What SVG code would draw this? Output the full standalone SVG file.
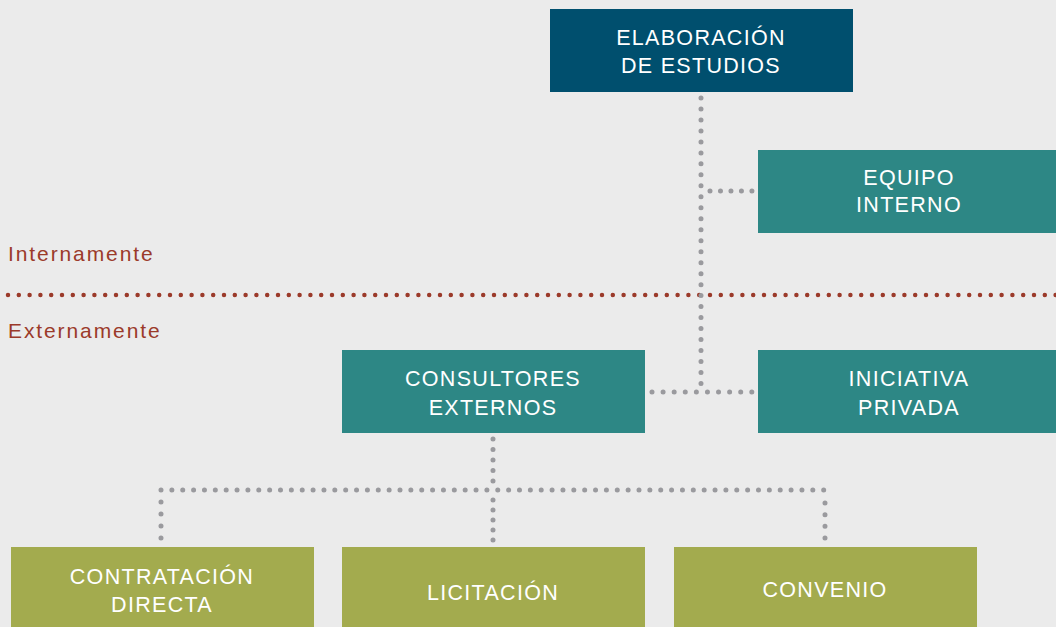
<svg xmlns="http://www.w3.org/2000/svg" width="1056" height="627" viewBox="0 0 1056 627">
<style>
.box text{font-family:"Liberation Sans",Arial,sans-serif;font-size:21.5px;fill:#ffffff;text-anchor:middle;letter-spacing:1.3px}
.blue{fill:#004f6e}
.teal{fill:#2d8785}
.olive{fill:#a3ab4e}
.gd{fill:none;stroke:#9a9a9e;stroke-width:5;stroke-linecap:round;stroke-dasharray:0 0.998}
.rd{fill:none;stroke:#9b3a2a;stroke-width:4.5;stroke-linecap:round;stroke-dasharray:0 10.8}
.lbl{font-family:"Liberation Sans",Arial,sans-serif;font-size:21px;fill:#9b3a2a;letter-spacing:1.9px}
</style>
<rect width="1056" height="627" fill="#ebebeb"/>
<g id="zones">
<text class="lbl" x="8" y="261">Internamente</text>
<path class="rd" d="M8 295 H1056"/>
<text class="lbl" x="8" y="338">Externamente</text>
</g>
<g id="connectors">
<path class="gd" pathLength="26" d="M701 98 V384"/>
<path class="gd" pathLength="4" d="M710 191 H752"/>
<path class="gd" pathLength="9" d="M652 392 H752"/>
<path class="gd" pathLength="4" d="M493 439 V481"/>
<path class="gd" pathLength="61" d="M161 490 H825"/>
<path class="gd" pathLength="3" d="M161 502 V538"/>
<path class="gd" pathLength="4" d="M493 500 V540"/>
<path class="gd" pathLength="3" d="M825 503 V538"/>
</g>
<g id="elaboracion" class="box">
<rect class="blue" x="550" y="9" width="303" height="83"/>
<text x="701" y="45">ELABORACIÓN</text>
<text x="701" y="73">DE ESTUDIOS</text>
</g>
<g id="equipo" class="box">
<rect class="teal" x="758" y="150" width="298" height="83"/>
<text x="909" y="185">EQUIPO</text>
<text x="909" y="212">INTERNO</text>
</g>
<g id="consultores" class="box">
<rect class="teal" x="342" y="350" width="303" height="83"/>
<text x="493" y="386">CONSULTORES</text>
<text x="493" y="415">EXTERNOS</text>
</g>
<g id="iniciativa" class="box">
<rect class="teal" x="758" y="350" width="298" height="83"/>
<text x="909" y="386">INICIATIVA</text>
<text x="909" y="415">PRIVADA</text>
</g>
<g id="contratacion" class="box">
<rect class="olive" x="11" y="547" width="303" height="80"/>
<text x="162" y="584">CONTRATACIÓN</text>
<text x="162" y="612">DIRECTA</text>
</g>
<g id="licitacion" class="box">
<rect class="olive" x="342" y="547" width="303" height="80"/>
<text x="493" y="600">LICITACIÓN</text>
</g>
<g id="convenio" class="box">
<rect class="olive" x="674" y="547" width="303" height="80"/>
<text x="825" y="597">CONVENIO</text>
</g>
</svg>
